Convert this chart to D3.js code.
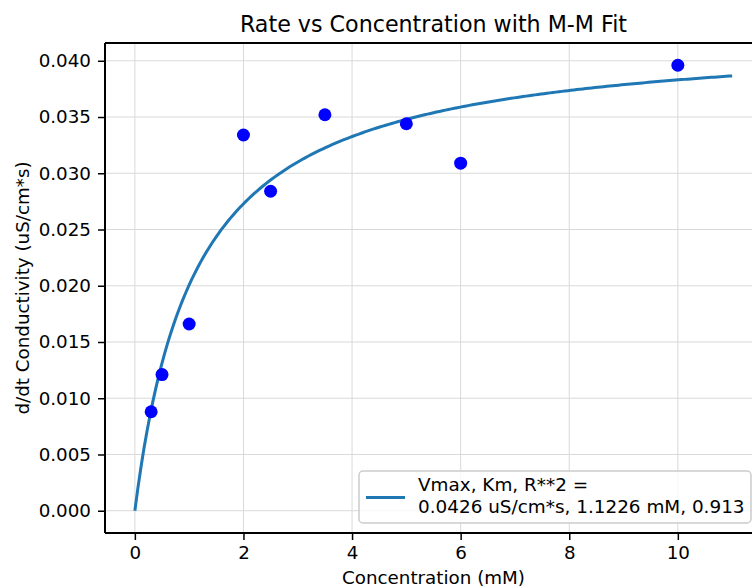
<!DOCTYPE html>
<html>
<head>
<meta charset="utf-8">
<script src="https://cdn.jsdelivr.net/npm/d3@7"></script>
<style>
  html, body { margin: 0; padding: 0; background: #fff; overflow: hidden; }
  svg text { font-family: "DejaVu Sans", sans-serif; fill: #000; }
</style>
</head>
<body>
<div id="chart"></div>
<script>
// measured data points
var concentration = [0.3, 0.5, 1, 2, 2.5, 3.5, 5, 6, 10];
var rate = [0.0088, 0.0121, 0.0166, 0.0334, 0.0284, 0.0352, 0.0344, 0.0309, 0.0396];

// fit parameters as printed in the legend
var vmax = 0.0426;
var km = 1.1226;
var r2 = 0.913;
var fitRange = [0, 11];

var xTicks = [0, 2, 4, 6, 8, 10];
var yTicks = [0, 0.005, 0.01, 0.015, 0.02, 0.025, 0.03, 0.035, 0.04];

var width = 752, height = 587;
var margin = { top: 43, right: -10, bottom: 54, left: 105 };
var plotW = width - margin.left - margin.right;
var plotH = height - margin.top - margin.bottom;

var svg = d3.select("#chart").append("svg")
  .attr("width", width)
  .attr("height", height);

var x = d3.scaleLinear().domain([-0.55, 11.55]).range([0, plotW]);
var y = d3.scaleLinear().domain([-0.00198, 0.04158]).range([plotH, 0]);

var g = svg.append("g").attr("transform", "translate(" + margin.left + "," + margin.top + ")");

// grid
g.append("g").selectAll("line").data(xTicks).join("line")
  .attr("x1", d => x(d)).attr("x2", d => x(d))
  .attr("y1", 0).attr("y2", plotH)
  .attr("stroke", "#d9d9d9").attr("stroke-width", 1);
g.append("g").selectAll("line").data(yTicks).join("line")
  .attr("x1", 0).attr("x2", plotW)
  .attr("y1", d => y(d)).attr("y2", d => y(d))
  .attr("stroke", "#d9d9d9").attr("stroke-width", 1);

// fit curve
var fitX = d3.range(0, 201).map(i => fitRange[0] + (fitRange[1] - fitRange[0]) * i / 200);
var line = d3.line()
  .x(d => x(d))
  .y(d => y(vmax * d / (km + d)));
g.append("path")
  .datum(fitX)
  .attr("d", line)
  .attr("fill", "none")
  .attr("stroke", "#1f77b4")
  .attr("stroke-width", 3);

// points
g.append("g").selectAll("circle").data(concentration).join("circle")
  .attr("cx", d => x(d))
  .attr("cy", (d, i) => y(rate[i]))
  .attr("r", 6.5)
  .attr("fill", "#0000ff");

// axes
var xAxis = g.append("g")
  .attr("transform", "translate(0," + plotH + ")")
  .call(d3.axisBottom(x).tickValues(xTicks).tickSize(7).tickPadding(6).tickFormat(d3.format("d")));
var yAxis = g.append("g")
  .call(d3.axisLeft(y).tickValues(yTicks).tickSize(7).tickPadding(7).tickFormat(d3.format(".3f")));
[xAxis, yAxis].forEach(function (a) {
  a.selectAll("text").style("font-size", "18.3px").attr("fill", "#000");
  a.selectAll(".tick line").attr("stroke", "#000").attr("stroke-width", 1.5);
  a.select(".domain").remove();
});

// spines
g.append("line").attr("x1", 0).attr("x2", 0).attr("y1", 0).attr("y2", plotH)
  .attr("stroke", "#000").attr("stroke-width", 2);
g.append("line").attr("x1", 0).attr("x2", plotW).attr("y1", plotH).attr("y2", plotH)
  .attr("stroke", "#000").attr("stroke-width", 2);
g.append("line").attr("x1", 0).attr("x2", plotW).attr("y1", 0).attr("y2", 0)
  .attr("stroke", "#000").attr("stroke-width", 2);

// legend
var leg = svg.append("g").attr("transform", "translate(359,471)");
leg.append("rect")
  .attr("width", 392).attr("height", 52)
  .attr("rx", 4)
  .attr("fill", "rgba(255,255,255,0.8)")
  .attr("stroke", "#cccccc")
  .attr("stroke-width", 1.5);
leg.append("line")
  .attr("x1", 7).attr("x2", 46).attr("y1", 26.5).attr("y2", 26.5)
  .attr("stroke", "#1f77b4").attr("stroke-width", 3);
leg.append("text")
  .attr("x", 59).attr("y", 19.5)
  .style("font-size", "18.4px")
  .text("Vmax, Km, R**2 =");
leg.append("text")
  .attr("x", 59).attr("y", 42)
  .style("font-size", "18.4px")
  .text(vmax.toFixed(4) + " uS/cm*s, " + km.toFixed(4) + " mM, " + r2.toFixed(3));

// titles
svg.append("text")
  .attr("x", margin.left + plotW / 2).attr("y", 32)
  .attr("text-anchor", "middle")
  .style("font-size", "22.2px")
  .text("Rate vs Concentration with M-M Fit");
svg.append("text")
  .attr("x", margin.left + plotW / 2).attr("y", 584)
  .attr("text-anchor", "middle")
  .style("font-size", "18.3px")
  .text("Concentration (mM)");
svg.append("text")
  .attr("transform", "translate(29," + (margin.top + plotH / 2) + ") rotate(-90)")
  .attr("text-anchor", "middle")
  .style("font-size", "18.3px")
  .text("d/dt Conductivity (uS/cm*s)");
</script>
</body>
</html>
